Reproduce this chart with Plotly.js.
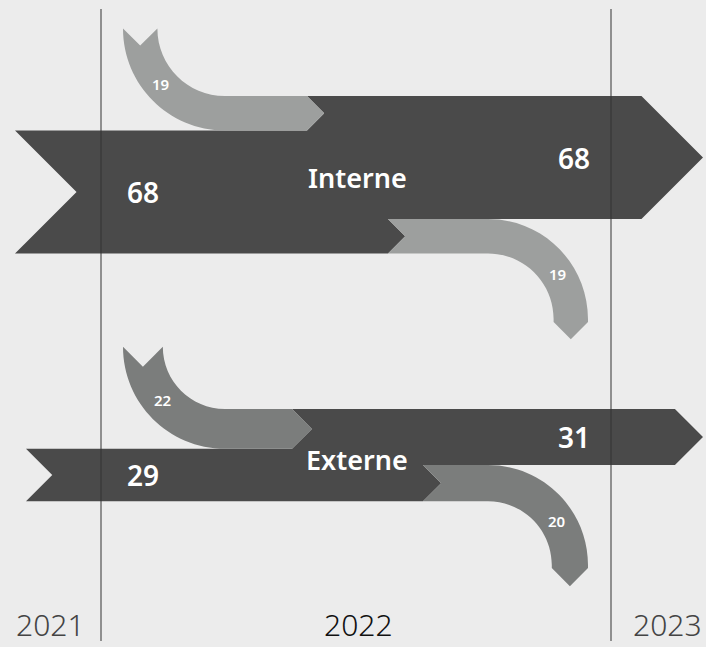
<!DOCTYPE html>
<html>
<head>
<meta charset="utf-8">
<script src="https://cdn.plot.ly/plotly-3.0.1.min.js"></script>
<style>html,body{margin:0;padding:0;background:#ececec;}#chart{width:706px;height:647px;}</style>
</head>
<body>
<div id="chart"></div>
<script>
// ---- data ----
const groups = ['Interne', 'Externe'];
const startValues = [68, 29];     // 2021 -> stock at start of 2022
const inflowValues = [19, 22];    // entries during 2022
const outflowValues = [19, 20];   // exits during 2022
const endValues = [68, 31];       // stock at end of 2022 -> 2023
const years = ['2021', '2022', '2023'];

// ---- layout / style constants ----
const W = 706, H = 647;
const K = 1.81;                    // px per unit (band thickness scale)
const endTopPx = [96, 409];        // top of the end band per group
const tailX = [15, 26];            // left edge of start band
const inArrowX = [307, 292];       // where inflow arrow meets the band
const outNotchX = [388, 423];      // where outflow leaves the band
const headTipX = 703;
const inflowOuterX = 123;
const outflowOuterX = 588;
const R_IN = 102, R_OUT = 100, OUT_EXT = 3;
const kap = 0.5523;
const yearLabelX = [50, 358, 667];
const yearColors = ['#444444', '#111111', '#444444'];
const dividerX = [101, 611];
const darkColor = '#4a4a4a';
const flowColors = ['#9d9f9e', '#7b7d7c'];
const FONT = 'Noto Sans, Open Sans, sans-serif';

function P(x, y) { return x.toFixed(2) + ',' + y.toFixed(2); }

const shapes = [];
const annotations = [];

groups.forEach((g, i) => {
  const s = startValues[i], a = inflowValues[i], o = outflowValues[i], e = endValues[i];
  const eT = endTopPx[i] / K, sT = eT + a, sB = sT + s, oT = sB - o, eB = eT + e;
  const L = tailX[i], xIn = inArrowX[i], xOut = outNotchX[i];

  // main dark band
  const dark = 'M' + P(L, sT) + ' L' + P(xIn, sT) + ' L' + P(xIn + a * K / 2, eT + a / 2) +
    ' L' + P(xIn, eT) + ' L' + P(headTipX - e * K / 2, eT) + ' L' + P(headTipX, eT + e / 2) +
    ' L' + P(headTipX - e * K / 2, eB) + ' L' + P(xOut, eB) + ' L' + P(xOut + o * K / 2, oT + o / 2) +
    ' L' + P(xOut, sB) + ' L' + P(L, sB) + ' L' + P(L + s * K / 2, sT + s / 2) + ' Z';
  shapes.push({type: 'path', xref: 'x', yref: 'y', path: dark, fillcolor: darkColor, line: {width: 0}, layer: 'below'});

  // inflow
  const thI = a * K, xa = inflowOuterX, cxI = xa + R_IN, yTop = sT - R_IN / K, riI = R_IN - thI;
  const inflow = 'M' + P(xa, yTop) +
    ' C' + P(xa, yTop + kap * R_IN / K) + ' ' + P(cxI - kap * R_IN, sT) + ' ' + P(cxI, sT) +
    ' L' + P(xIn, sT) + ' L' + P(xIn + thI / 2, eT + a / 2) + ' L' + P(xIn, eT) + ' L' + P(cxI, eT) +
    ' C' + P(cxI - kap * riI, eT) + ' ' + P(xa + thI, yTop + kap * riI / K) + ' ' + P(xa + thI, yTop) +
    ' L' + P(xa + thI / 2, yTop + a / 2) + ' Z';
  shapes.push({type: 'path', xref: 'x', yref: 'y', path: inflow, fillcolor: flowColors[i], line: {width: 0}, layer: 'below'});

  // outflow
  const thO = o * K, xb = outflowOuterX, cxO = xb - R_OUT, cyE = oT + R_OUT / K, riO = R_OUT - thO;
  const yEx = cyE + OUT_EXT / K;
  const outflow = 'M' + P(xOut, oT) + ' L' + P(cxO, oT) +
    ' C' + P(cxO + kap * R_OUT, oT) + ' ' + P(xb, cyE - kap * R_OUT / K) + ' ' + P(xb, cyE) +
    ' L' + P(xb, yEx) + ' L' + P(xb - thO / 2, yEx + o / 2) + ' L' + P(xb - thO, yEx) + ' L' + P(xb - thO, cyE) +
    ' C' + P(xb - thO, cyE - kap * riO / K) + ' ' + P(cxO + kap * riO, sB) + ' ' + P(cxO, sB) +
    ' L' + P(xOut, sB) + ' L' + P(xOut + thO / 2, oT + o / 2) + ' Z';
  shapes.push({type: 'path', xref: 'x', yref: 'y', path: outflow, fillcolor: flowColors[i], line: {width: 0}, layer: 'below'});

  const big = {family: FONT, size: 28, color: '#ffffff', weight: 600};
  const small = {family: FONT, size: 15, color: '#ffffff', weight: 600};
  annotations.push({x: 143, y: (sT + sB) / 2, text: String(s), showarrow: false, font: big, xref: 'x', yref: 'y'});
  annotations.push({x: 574, y: (eT + eB) / 2, text: String(e), showarrow: false, font: big, xref: 'x', yref: 'y'});
  annotations.push({x: 357, y: (sT + eB) / 2 + 1.5, text: g, showarrow: false, font: {family: FONT, size: 27, color: '#ffffff', weight: 600}, xref: 'x', yref: 'y'});
  const angI = 42 * Math.PI / 180, rmI = R_IN - thI / 2;
  annotations.push({x: cxI - rmI * Math.cos(angI) - 1.5, y: yTop + rmI * Math.sin(angI) / K - 1.5 / K, text: String(a), showarrow: false, font: small, xref: 'x', yref: 'y'});
  const angO = 33 * Math.PI / 180, rmO = R_OUT - thO / 2;
  annotations.push({x: cxO + rmO * Math.cos(angO), y: cyE - rmO * Math.sin(angO) / K, text: String(o), showarrow: false, font: small, xref: 'x', yref: 'y'});
});

dividerX.forEach(x => {
  shapes.push({type: 'line', xref: 'x', yref: 'y', x0: x, x1: x, y0: 9 / K, y1: 641 / K, line: {color: '#333333', width: 1}, layer: 'above'});
});

years.forEach((yr, i) => {
  annotations.push({x: yearLabelX[i], y: 0, xref: 'x', yref: 'paper', yanchor: 'bottom', text: yr, showarrow: false,
    font: {family: FONT, size: 30, color: yearColors[i], weight: 300}});
});

const layout = {
  width: W, height: H,
  margin: {l: 0, r: 0, t: 0, b: 0},
  paper_bgcolor: '#ececec', plot_bgcolor: '#ececec',
  xaxis: {range: [0, W], visible: false, fixedrange: true},
  yaxis: {range: [H / K, 0], visible: false, fixedrange: true},
  shapes: shapes, annotations: annotations, showlegend: false
};
Plotly.newPlot('chart', [], layout, {displayModeBar: false, staticPlot: true});
</script>
</body>
</html>
